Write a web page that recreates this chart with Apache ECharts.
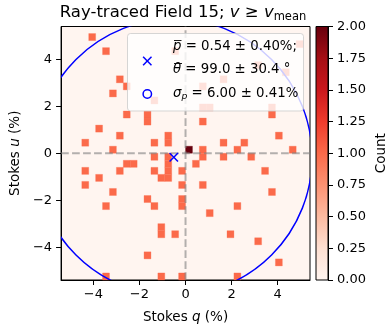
<!DOCTYPE html>
<html><head><meta charset="utf-8">
<script src="https://cdn.jsdelivr.net/npm/echarts@6/dist/echarts.min.js"></script>
<style>html,body{margin:0;padding:0;background:#fff}#c{width:389px;height:330px}</style>
</head><body><div id="c"></div>
<script>
const FONT = 'DejaVu Sans';
// ---- data ----
const binWidth = 0.3;               // bin size in %
const axisMin = -5.4, axisMax = 5.4;
// occupied histogram bins (bin centres, %) and their counts
const cellU = [
  4.95,
  4.65,
  4.35, 4.35,
  3.75,
  3.45,
  3.15, 3.15,
  2.85, 2.85,
  2.55,
  2.25,
  1.95, 1.95, 1.95,
  1.65, 1.65, 1.65,
  1.35, 1.35,
  1.05,
  0.75, 0.75, 0.75,
  0.45, 0.45, 0.45, 0.45, 0.45,
  0.15, 0.15, 0.15, 0.15, 0.15,
  -0.15, -0.15, -0.15, -0.15, -0.15,
  -0.45, -0.45, -0.45, -0.45,
  -0.75, -0.75, -0.75, -0.75, -0.75, -0.75,
  -1.05, -1.05, -1.05,
  -1.35, -1.35, -1.35,
  -1.65, -1.65,
  -1.95, -1.95,
  -2.25, -2.25, -2.25, -2.25,
  -2.55,
  -3.15,
  -3.45, -3.45, -3.45,
  -3.75,
  -4.35,
  -4.65,
  -5.25, -5.25, -5.25, -5.25
];
const cellQ = [
  -4.05,
  4.95,
  -3.45, -0.45,
  3.15,
  4.35,
  -2.85, 1.65,
  -2.55, 0.75,
  -3.15,
  -1.35,
  0.75, 1.05, 3.75,
  -2.55, -1.65, 3.75,
  -1.65, 0.75,
  -3.75,
  -2.85, -0.75, 4.05,
  -4.35, -1.35, -0.75, 1.65, 2.55,
  -3.15, 0.15, 0.75, 2.25, 4.65,
  -1.35, -0.75, 0.75, 1.65, 2.85,
  -2.55, -2.25, -0.75, 0.45,
  -4.35, -2.85, -1.35, -0.75, -0.15, 3.45,
  -3.75, -1.05, -0.75,
  -4.35, -0.15, 0.75,
  -3.15, 3.75,
  -1.65, -0.15,
  -3.45, -1.35, -0.15, 2.25,
  1.05,
  -1.05,
  -1.05, -0.45, 1.95,
  3.15,
  -1.65,
  4.05,
  -3.45, -1.05, -0.15, 2.25
];
const cellCount = cellQ.map(function (q, i) { return (q === 0.15 && cellU[i] === 0.15) ? 2 : 1; });
const meanQ = -0.51, meanU = -0.17;     // mean (q,u) marker
const sigmaRadius = 6.00;               // sigma_p circle radius (%)
const xTicks = [-4, -2, 0, 2, 4];
const yTicks = [-4, -2, 0, 2, 4];
const countMin = 0, countMax = 2, countStep = 0.25;
const legendTexts = [
  '{pi|p}{n| = 0.54 ± 0.40%;}',
  '{pi|θ}{n| = 99.0 ± 30.4 °}',
  '{pi|σ}{s|p}{n| = 6.00 ± 0.41%}'
];
// ---- colour map (matplotlib Reds) ----
const redsStops = ['#fff5f0','#fee0d2','#fcbba1','#fc9272','#fb6a4a','#ef3b2c','#cb181d','#a50f15','#67000d'];
function hex(c){return [parseInt(c.substr(1,2),16),parseInt(c.substr(3,2),16),parseInt(c.substr(5,2),16)];}
function reds(t){
  t = Math.max(0, Math.min(1, t));
  const n = redsStops.length - 1, f = t * n, i = Math.min(Math.floor(f), n - 1), w = f - i;
  const a = hex(redsStops[i]), b = hex(redsStops[i + 1]);
  return 'rgb(' + a.map(function (v, k) { return Math.round(v + (b[k] - v) * w); }).join(',') + ')';
}
const minus = function (v) { return v < 0 ? '\u2212' + Math.abs(v) : String(v); };
function legendRich() {
  return {
    n: {fontFamily: FONT, fontSize: 13.3, lineHeight: 16, fill: '#000'},
    pi: {fontFamily: FONT, fontSize: 13.3, fontStyle: 'italic', lineHeight: 16, fill: '#000'},
    s: {fontFamily: FONT, fontSize: 9.3, fontStyle: 'italic', lineHeight: 9, verticalAlign: 'bottom', fill: '#000'}
  };
}

const chart = echarts.init(document.getElementById('c'), null, {renderer: 'canvas'});
const axisCommon = {
  axisLine: {show: true, onZero: false, lineStyle: {color: '#000', width: 1}},
  axisTick: {show: true, inside: false, length: 5, lineStyle: {color: '#000', width: 1}},
  splitLine: {show: false},
  axisLabel: {color: '#000', fontFamily: FONT, fontSize: 13}
};
const nameStyle = {color: '#000', fontFamily: FONT, fontSize: 13.5,
  rich: {i: {fontStyle: 'italic', fontFamily: FONT, fontSize: 13.5, color: '#000'}}};
const LZ = 100;
const option = {
  animation: false,
  backgroundColor: '#fff',
  grid: [
    {left: 56, top: 26.5, width: 254, height: 253.5, show: true, backgroundColor: reds(0), borderColor: '#000', borderWidth: 1},
    {left: 316, top: 26.5, width: 14, height: 253.5, show: false}
  ],
  xAxis: [
    Object.assign({}, axisCommon, {type: 'value', gridIndex: 0, min: axisMin, max: axisMax,
      axisTick: Object.assign({}, axisCommon.axisTick, {customValues: xTicks}),
      axisLabel: Object.assign({}, axisCommon.axisLabel, {customValues: xTicks, formatter: minus, margin: 8}),
      name: 'Stokes {i|q} (%)', nameLocation: 'middle', nameGap: 30, nameTextStyle: nameStyle}),
    {type: 'value', gridIndex: 1, min: 0, max: 1, show: false}
  ],
  yAxis: [
    Object.assign({}, axisCommon, {type: 'value', gridIndex: 0, min: axisMin, max: axisMax,
      axisTick: Object.assign({}, axisCommon.axisTick, {customValues: yTicks}),
      axisLabel: Object.assign({}, axisCommon.axisLabel, {customValues: yTicks, formatter: minus, margin: 9}),
      name: 'Stokes {i|u} (%)', nameLocation: 'middle', nameGap: 37, nameRotate: 90, nameTextStyle: nameStyle}),
    Object.assign({}, axisCommon, {type: 'value', gridIndex: 1, position: 'right', min: countMin, max: countMax, interval: countStep,
      axisLabel: Object.assign({}, axisCommon.axisLabel, {formatter: function (v) { return v.toFixed(2); }, margin: 9}),
      name: 'Count', nameLocation: 'middle', nameGap: 46, nameRotate: 90, nameTextStyle: nameStyle})
  ],
  series: [
    {
      type: 'custom', xAxisIndex: 0, yAxisIndex: 0, z: 1,
      data: cellQ.map(function (q, i) { return [q, cellU[i], cellCount[i]]; }),
      renderItem: function (params, api) {
        const q = api.value(0), u = api.value(1), n = api.value(2);
        const p0 = api.coord([q - binWidth / 2, u + binWidth / 2]);
        const p1 = api.coord([q + binWidth / 2, u - binWidth / 2]);
        const col = reds(n / countMax);
        return {type: 'rect', shape: {x: p0[0], y: p0[1], width: p1[0] - p0[0], height: p1[1] - p0[1]},
          style: {fill: col, stroke: col, lineWidth: 0.3}};
      }
    },
    {
      type: 'custom', xAxisIndex: 0, yAxisIndex: 0, z: 2,
      data: [[0, 0]],
      renderItem: function (params, api) {
        const cs = params.coordSys, p = api.coord([api.value(0), api.value(1)]);
        const st = {stroke: 'rgba(128,128,128,0.6)', lineWidth: 2, lineDash: [7.7, 3.3], fill: null};
        return {type: 'group', children: [
          {type: 'line', shape: {x1: p[0], y1: cs.y + cs.height, x2: p[0], y2: cs.y}, style: st},
          {type: 'line', shape: {x1: cs.x, y1: p[1], x2: cs.x + cs.width, y2: p[1]}, style: st}
        ]};
      }
    },
    {
      type: 'custom', xAxisIndex: 0, yAxisIndex: 0, z: 3,
      data: [[meanQ, meanU, sigmaRadius]],
      renderItem: function (params, api) {
        const cs = params.coordSys, c = api.coord([api.value(0), api.value(1)]);
        const r = api.size([api.value(2), 0])[0];
        return {type: 'circle', shape: {cx: c[0], cy: c[1], r: r},
          style: {fill: null, stroke: '#0000ff', lineWidth: 1.5},
          clipPath: {type: 'rect', shape: {x: cs.x, y: cs.y, width: cs.width, height: cs.height}}};
      }
    },
    {
      type: 'custom', xAxisIndex: 0, yAxisIndex: 0, z: 4,
      data: [[meanQ, meanU]],
      renderItem: function (params, api) {
        const c = api.coord([api.value(0), api.value(1)]), h = 4.2;
        const st = {stroke: '#0000ff', lineWidth: 1.5, fill: null};
        return {type: 'group', children: [
          {type: 'line', shape: {x1: c[0] - h, y1: c[1] - h, x2: c[0] + h, y2: c[1] + h}, style: st},
          {type: 'line', shape: {x1: c[0] - h, y1: c[1] + h, x2: c[0] + h, y2: c[1] - h}, style: st}
        ]};
      }
    },
    {
      type: 'custom', xAxisIndex: 1, yAxisIndex: 1, z: 1,
      data: [[0, countMin, 1, countMax]],
      renderItem: function (params, api) {
        const p0 = api.coord([api.value(0), api.value(3)]);
        const p1 = api.coord([api.value(2), api.value(1)]);
        const stops = redsStops.map(function (c, i) { return {offset: i / (redsStops.length - 1), color: c}; });
        const shape = {x: p0[0], y: p0[1], width: p1[0] - p0[0], height: p1[1] - p0[1]};
        return {type: 'group', children: [
          {type: 'rect', shape: shape, style: {fill: new echarts.graphic.LinearGradient(0, 1, 0, 0, stops)}},
          {type: 'rect', shape: shape, style: {fill: null, stroke: '#000', lineWidth: 1}}
        ]};
      }
    }
  ],
  graphic: [
    {type: 'text', x: 183, y: 13, z: LZ,
      style: {text: '{n|Ray-traced Field 15; }{i|v}{n| ≥ }{i|v}{s|mean}', align: 'center', verticalAlign: 'middle',
        rich: {
          n: {fontFamily: FONT, fontSize: 16.5, lineHeight: 20, fill: '#000'},
          i: {fontFamily: FONT, fontSize: 16.5, fontStyle: 'italic', lineHeight: 20, fill: '#000'},
          s: {fontFamily: FONT, fontSize: 11.5, lineHeight: 11.5, verticalAlign: 'bottom', fill: '#000'}
        }}},
    {type: 'rect', z: LZ, shape: {x: 127.5, y: 33.5, width: 176, height: 77.5, r: 3},
      style: {fill: 'rgba(255,255,255,0.8)', stroke: 'rgba(204,204,204,0.8)', lineWidth: 1}},
    {type: 'line', z: LZ + 1, shape: {x1: 143.1, y1: 56.8, x2: 151.5, y2: 65.2}, style: {stroke: '#0000ff', lineWidth: 1.5}},
    {type: 'line', z: LZ + 1, shape: {x1: 143.1, y1: 65.2, x2: 151.5, y2: 56.8}, style: {stroke: '#0000ff', lineWidth: 1.5}},
    {type: 'circle', z: LZ + 1, shape: {cx: 147.3, cy: 94, r: 4.2}, style: {fill: null, stroke: '#0000ff', lineWidth: 1.5}},
    {type: 'text', z: LZ + 1, x: 173, y: 46.5, style: {text: legendTexts[0], verticalAlign: 'middle', rich: legendRich()}},
    {type: 'text', z: LZ + 1, x: 173, y: 70, style: {text: legendTexts[1], verticalAlign: 'middle', rich: legendRich()}},
    {type: 'text', z: LZ + 1, x: 173, y: 93.5, style: {text: legendTexts[2], verticalAlign: 'middle', rich: legendRich()}},
    // overbars of the mean symbols
    {type: 'line', z: LZ + 1, shape: {x1: 174, y1: 40.5, x2: 181.5, y2: 40.5}, style: {stroke: '#000', lineWidth: 0.9}},
    {type: 'line', z: LZ + 1, shape: {x1: 174, y1: 63.5, x2: 182, y2: 63.5}, style: {stroke: '#000', lineWidth: 0.9}}
  ]
};
chart.setOption(option);
</script></body></html>
